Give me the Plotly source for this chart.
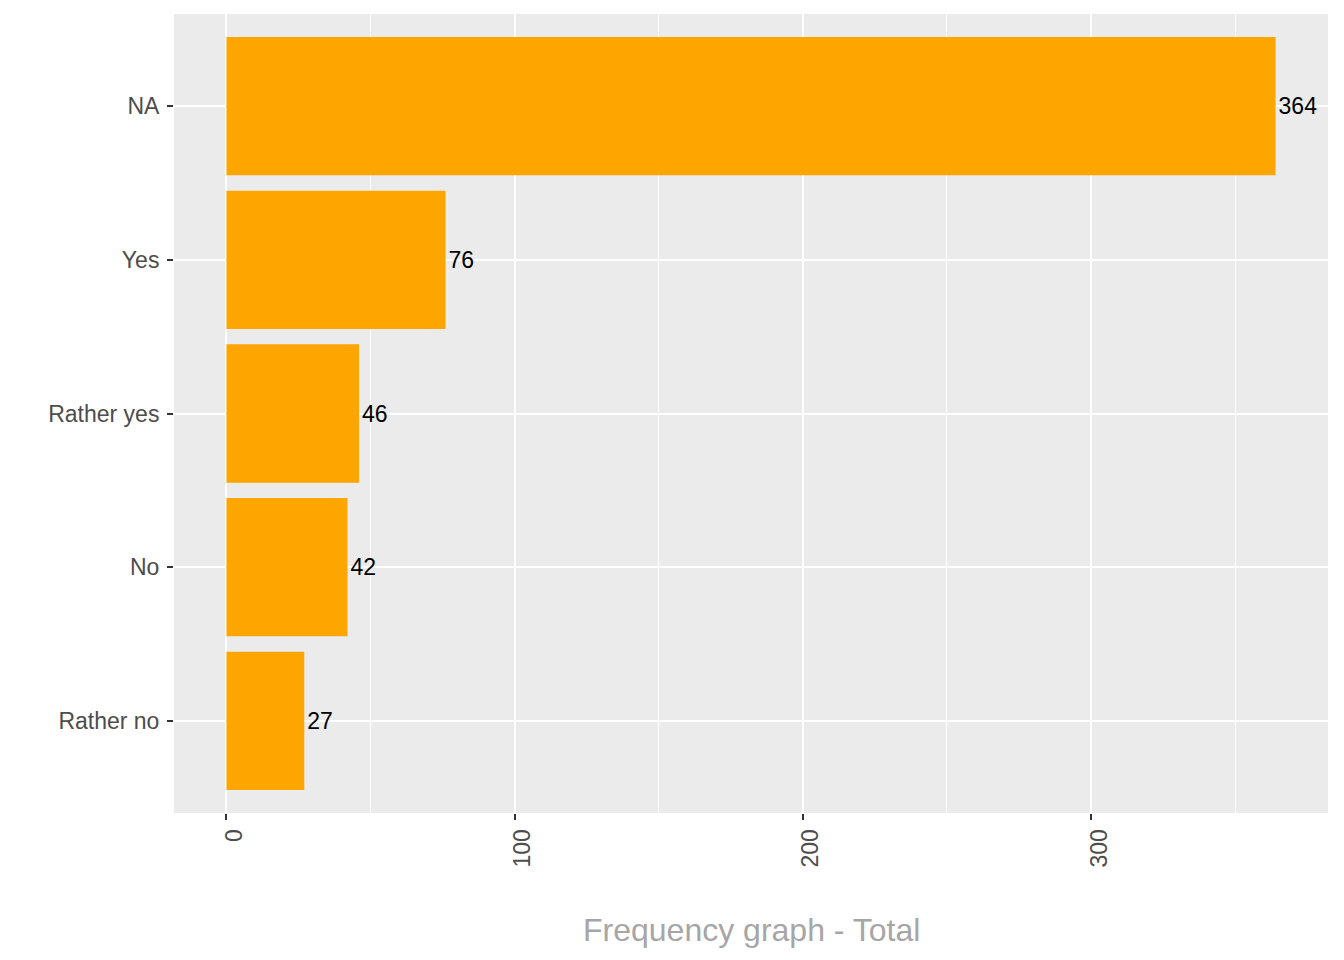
import plotly.graph_objects as go

categories = ["Rather no", "No", "Rather yes", "Yes", "NA"]
counts = [27, 42, 46, 76, 364]
x_ticks = [0, 100, 200, 300]
x_minor = [50, 150, 250, 350]
x_title = "Frequency graph - Total"

fig = go.Figure()
fig.add_trace(go.Bar(
    x=counts, y=categories, orientation="h",
    marker=dict(color="#FFA500", line=dict(width=0)),
    width=0.9,
    text=[str(c) for c in counts],
    textposition="outside",
    textfont=dict(family="Liberation Sans, Arial", size=23, color="#000000"),
    cliponaxis=False,
    constraintext="none",
))

fig.update_layout(
    width=1344, height=960,
    margin=dict(l=166, r=24, t=6, b=155),
    paper_bgcolor="white",
    plot_bgcolor="#EBEBEB",
    showlegend=False,
    font=dict(family="Liberation Sans, Arial", color="#4D4D4D"),
    xaxis=dict(
        range=[-18.2, 382.2],
        tickvals=x_ticks, ticktext=[str(t) for t in x_ticks],
        tickangle=-90,
        ticklabelshift=8,
        tickfont=dict(size=23, color="#4D4D4D"),
        ticks="outside", ticklen=6, tickwidth=1.5, tickcolor="#333333",
        showgrid=True, gridcolor="white", gridwidth=2,
        minor=dict(tickvals=x_minor, showgrid=True, gridcolor="white", gridwidth=1, ticks=""),
        zeroline=False, showline=False,
    ),
    yaxis=dict(
        type="category",
        categoryorder="array", categoryarray=categories,
        range=[-0.6, 4.6],
        tickfont=dict(size=23, color="#4D4D4D"),
        ticks="outside", ticklen=6, tickwidth=1.5, tickcolor="#333333",
        ticklabelstandoff=3,
        showgrid=True, gridcolor="white", gridwidth=2,
        zeroline=False, showline=False,
    ),
    annotations=[dict(
        text=x_title, xref="paper", yref="paper", x=0.5, y=-0.1464,
        xanchor="center", yanchor="middle", showarrow=False,
        font=dict(family="Liberation Sans, Arial", size=32, color="#A6A6A6"),
    )],
)

fig.write_html("out.html")
